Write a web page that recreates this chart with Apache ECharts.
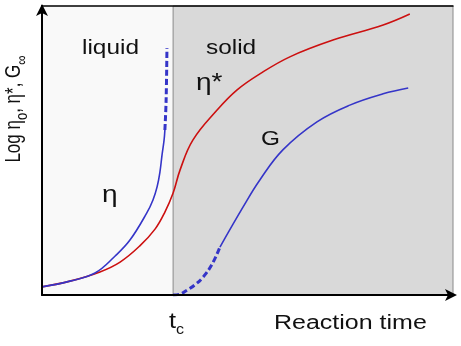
<!DOCTYPE html>
<html>
<head>
<meta charset="utf-8">
<script src="https://cdn.jsdelivr.net/npm/echarts@6/dist/echarts.min.js"></script>
<style>
  html, body { margin: 0; padding: 0; background: #ffffff; }
  #chart { width: 461px; height: 346px; }
</style>
</head>
<body>
<div id="chart"></div>
<script>
// Gel point (t_c) on the reaction-time axis, in axis units (0..100)
const gelPoint = 31.9;

// Complex viscosity eta* across the whole reaction
const etaStar = [
  [0, 2.8], [6.8, 4.8], [14.1, 8.0], [19.0, 11.4], [23.8, 17.0], [27.5, 22.8],
  [29.9, 28.7], [31.9, 35.3], [33.6, 43.3], [36.7, 53.6],
  [42.6, 64.0], [47.4, 70.9], [53.0, 76.5], [60.3, 82.4], [70.8, 88.2],
  [83.0, 93.4], [89.5, 97.2]
];

// Zero-shear viscosity eta_0 in the liquid state (measured part, then diverging part)
const etaLiquid = [
  [0, 2.8], [6.8, 4.8], [12.9, 7.6], [17.8, 13.5], [21.4, 19.0],
  [25.5, 28.4], [27.0, 32.9], [28.0, 37.4], [28.7, 42.6], [29.2, 48.4],
  [29.7, 53.6], [29.9, 57.1]
];
const etaDiverging = [[29.9, 57.1], [30.2, 67.5], [30.4, 85.5]];

// Equilibrium modulus G in the solid state (onset, then growth)
const modulusOnset = [
  [31.9, 0], [33.6, 0.3], [35.3, 1.7], [37.2, 3.5], [39.2, 6.2], [41.4, 10.7], [43.3, 16.6]
];
const modulusGrowth = [
  [43.3, 16.6], [48.9, 30.4], [53.0, 39.8], [58.6, 50.2],
  [66.9, 59.9], [74.9, 65.7], [83.0, 69.6], [89.1, 71.6]
];

const RED = '#cc1010';
const BLUE = '#3535c8';
const FONT = '"Liberation Sans", Arial, sans-serif';

const chart = echarts.init(document.getElementById('chart'), null, { renderer: 'canvas' });

function curve(data, color, width, dashed) {
  return {
    type: 'line',
    data: data,
    smooth: 0.4,
    showSymbol: false,
    silent: true,
    lineStyle: { color: color, width: width, type: dashed ? [6, 3] : 'solid' },
    z: 3
  };
}

function label(text, x, y, size, extra) {
  return Object.assign({
    type: 'text',
    x: x, y: y,
    scaleX: 1.22,
    style: {
      text: text,
      font: size + 'px ' + FONT,
      fill: '#111111',
      align: 'left',
      verticalAlign: 'top'
    },
    z: 20
  }, extra || {});
}

chart.setOption({
  animation: false,
  backgroundColor: '#ffffff',
  grid: {
    left: 42, right: 8, top: 6, bottom: 51,
    show: true, backgroundColor: '#f9f9f9', borderWidth: 0
  },
  xAxis: [
    {
      type: 'value', min: 0, max: 100, z: 10,
      axisLine: { show: true, lineStyle: { color: '#000', width: 2 },
                  symbol: ['none', 'arrow'], symbolSize: [9, 12], symbolOffset: [0, 4] },
      axisTick: { show: false }, axisLabel: { show: false }, splitLine: { show: false }
    },
    {
      type: 'value', min: 0, max: 100, position: 'top', z: 10,
      axisLine: { show: true, lineStyle: { color: '#000', width: 1.5 } },
      axisTick: { show: false }, axisLabel: { show: false }, splitLine: { show: false }
    }
  ],
  yAxis: [
    {
      type: 'value', min: 0, max: 100, z: 10,
      axisLine: { show: true, lineStyle: { color: '#000', width: 2 },
                  symbol: ['none', 'arrow'], symbolSize: [9, 12], symbolOffset: [0, 2] },
      axisTick: { show: false }, axisLabel: { show: false }, splitLine: { show: false }
    }
  ],
  series: [
    Object.assign(curve(etaStar, RED, 1.6, false), {
      markArea: {
        silent: true,
        itemStyle: { color: '#d9d9d9', borderColor: '#8a8a8a', borderWidth: 1 },
        data: [[{ xAxis: gelPoint, yAxis: 0 }, { xAxis: 100, yAxis: 100 }]]
      }
    }),
    curve(etaLiquid, BLUE, 1.6, false),
    curve(etaDiverging, BLUE, 3, true),
    curve(modulusOnset, BLUE, 3, true),
    curve(modulusGrowth, BLUE, 1.6, false)
  ],
  graphic: [
    label('liquid', 82, 38, 20),
    label('solid', 206, 38, 20),
    label('\u03b7*', 196, 72, 23),
    label('G', 261, 129, 20),
    label('\u03b7', 102, 184, 23),
    label('Reaction time', 274, 313, 20, { scaleX: 1.25 }),
    {
      type: 'text', x: 169, y: 311, z: 20, scaleX: 1.15,
      style: {
        text: '{m|t}{s|c}',
        font: '22px ' + FONT, fill: '#111',
        rich: {
          m: { font: '22px ' + FONT, fill: '#111', verticalAlign: 'top' },
          s: { font: '14px ' + FONT, fill: '#111', verticalAlign: 'bottom', padding: [12, 0, 0, 0] }
        }
      }
    },
    {
      type: 'text', x: 17, y: 109, rotation: Math.PI / 2, scaleY: 1.25, z: 20,
      style: {
        text: '{m|Log \u03b7}{s|o}{m|, \u03b7*, G}{s|\u221e}',
        font: '17px ' + FONT, fill: '#111',
        align: 'center', verticalAlign: 'middle',
        rich: {
          m: { font: '17px ' + FONT, fill: '#111', verticalAlign: 'top' },
          s: { font: '13px ' + FONT, fill: '#111', verticalAlign: 'bottom', padding: [9, 0, 0, 0] }
        }
      }
    }
  ]
});
</script>
</body>
</html>
